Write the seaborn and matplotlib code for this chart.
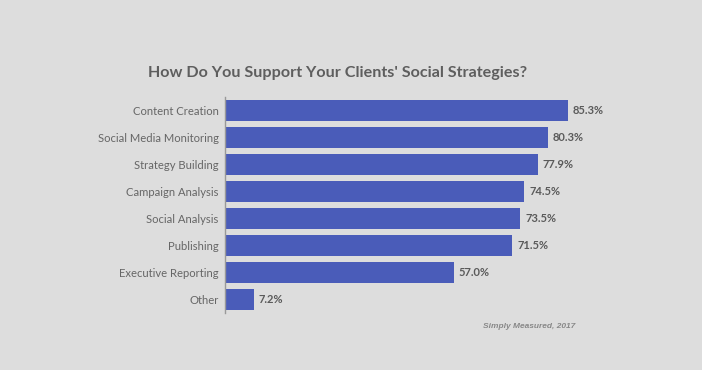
import matplotlib
matplotlib.use("Agg")
import matplotlib.pyplot as plt
import seaborn as sns
import pandas as pd

categories = ["Content Creation", "Social Media Monitoring", "Strategy Building",
              "Campaign Analysis", "Social Analysis", "Publishing",
              "Executive Reporting", "Other"]
values = [85.3, 80.3, 77.9, 74.5, 73.5, 71.5, 57.0, 7.2]
title = "How Do You Support Your Clients' Social Strategies?"
source = "Simply Measured, 2017"

bg = "#dddddd"
bar_color = "#4a5cb9"
text_color = "#666666"

sns.set_theme(style="white")
plt.rcParams['font.family'] = ['Lato', 'DejaVu Sans']

df = pd.DataFrame({"category": categories, "value": values})

fig = plt.figure(figsize=(7.02, 3.70), dpi=100)
fig.patch.set_facecolor(bg)
ax = fig.add_axes([225/702, 57/370, 402/702, 216/370])
ax.set_facecolor(bg)

sns.barplot(data=df, y="category", x="value", orient="h", color=bar_color,
            saturation=1, width=0.78, ax=ax, order=categories, linewidth=0)

ax.set_xlim(0, 100)
ax.set_ylim(7.5, -0.5)
ax.set_xlabel("")
ax.set_ylabel("")
ax.set_xticks([])
for s in ["top", "right", "bottom"]:
    ax.spines[s].set_visible(False)
ax.spines["left"].set_color("#999999")
ax.spines["left"].set_linewidth(1)
ax.tick_params(axis="y", length=0, pad=4.5, labelsize=8.1, labelcolor=text_color)

for i, v in enumerate(values):
    ax.text(v + 1.2, i, f"{v:.1f}%", va="center", ha="left", fontsize=8,
            fontweight="bold", color="#5a5a5a")

fig.text(338/702, 1 - 73/370, title, ha="center", va="center", fontsize=11.6,
         fontweight="bold", color="#5e5e5e")
fig.text(529/702, 1 - 327/370, source, ha="center", va="center", fontsize=6,
         fontstyle="italic", fontweight="bold", color="#888888",
         family=["Liberation Sans", "DejaVu Sans"])

fig.savefig("out.png", dpi=100, facecolor=bg)
